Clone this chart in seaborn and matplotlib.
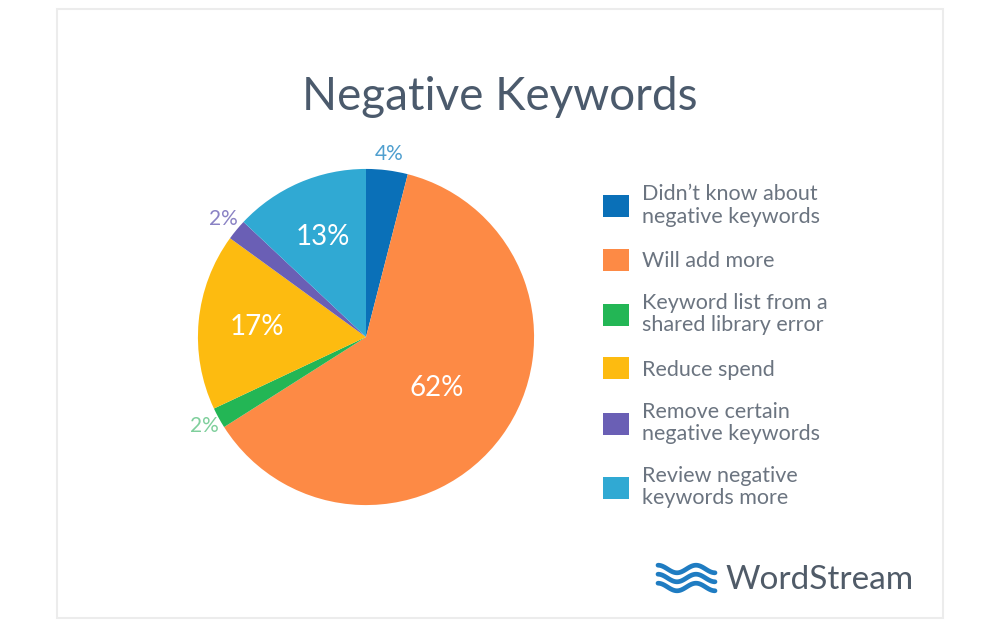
import numpy as np
import matplotlib
matplotlib.use("Agg")
import matplotlib.pyplot as plt
import seaborn as sns
from matplotlib.patches import Rectangle

# Datos del grafico
categorias = ["Didn\u2019t know about\nnegative keywords",
              "Will add more",
              "Keyword list from a\nshared library error",
              "Reduce spend",
              "Remove certain\nnegative keywords",
              "Review negative\nkeywords more"]
porcentajes = [4, 62, 2, 17, 2, 13]
colores = ["#0a70b8", "#fd8a45", "#23b655", "#fdbb10", "#6a5fb5", "#30a9d3"]
colores_etiqueta = ["#4f9fcf", "white", "#7fcf9c", "white", "#8a82c4", "white"]

sns.set_theme(style="white")
plt.rcParams['font.family'] = ['Lato', 'DejaVu Sans']

fig = plt.figure(figsize=(10, 6.3), dpi=100)
fig.patch.set_facecolor("white")

# marco gris
fig.patches.append(Rectangle((0.057, 0.019), 0.886, 0.966, transform=fig.transFigure,
                             fill=False, edgecolor="#ececec", linewidth=1.5))

ax = fig.add_axes([0.166, 1 - 537/630, 0.4, 400/630])
paleta = sns.color_palette(colores)
wedges, _ = ax.pie(porcentajes, colors=paleta, startangle=90, counterclock=False,
                   wedgeprops=dict(linewidth=0))
ax.set_xlim(-1.19, 1.19)
ax.set_ylim(-1.19, 1.19)
ax.set_aspect("equal")
ax.axis("off")

# Etiquetas de porcentaje
for w, p, c in zip(wedges, porcentajes, colores_etiqueta):
    ang = np.deg2rad((w.theta1 + w.theta2) / 2)
    if p < 5:
        r, fs = 1.1, 15
    elif p > 50:
        r, fs = 0.52, 20
    else:
        r, fs = 0.65, 20
    ax.text(r * np.cos(ang), r * np.sin(ang), f"{p}%", ha="center", va="center",
            color=c, fontsize=fs)

# Titulo
fig.text(0.5, 1 - 97/630, "Negative Keywords", ha="center", va="center",
         fontsize=33, color="#4b5a6c")

# Leyenda
leg = fig.legend(wedges, categorias, loc="upper left", bbox_to_anchor=(0.584, 1 - 165/630),
                 frameon=False, fontsize=15.5, labelcolor="#6b7480",
                 handlelength=1.2, handleheight=1.2, handletextpad=0.6,
                 labelspacing=1.02)
for t in leg.get_texts():
    t.set_linespacing(1.15)

# Logo WordStream
xs = np.linspace(0.658, 0.715, 100)
for k, y0 in enumerate([1 - 569/630, 1 - 578/630, 1 - 587/630]):
    ys = y0 + 0.006 * np.sin((xs - 0.658) / 0.057 * 2 * np.pi * 1.5 + np.pi / 2)
    fig.add_artist(plt.Line2D(xs, ys, transform=fig.transFigure, color="#1f7cc2",
                              linewidth=3.4, solid_capstyle="round"))
fig.text(0.725, 1 - 580/630, "WordStream", ha="left", va="center",
         fontsize=24, color="#505b68")

fig.savefig("out.png", dpi=100, facecolor="white")
